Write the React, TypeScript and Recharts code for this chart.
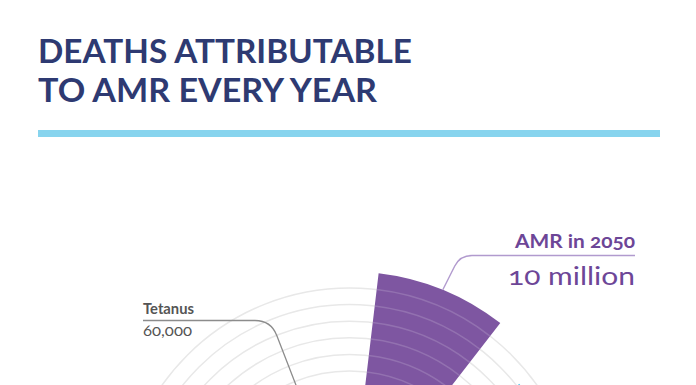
import React from 'react';
import {
  RadialBarChart,
  RadialBar,
  PolarGrid,
  PolarAngleAxis,
  PolarRadiusAxis,
  Sector,
} from 'recharts';

// ---- data ----
const CAUSES = [
  'AMR in 2050',
  'Cancer',
  'Cholera',
  'Diarrhoeal disease',
  'Road traffic accidents',
  'Measles',
  'AMR now',
  'Tetanus',
];
const DEATHS = [10000000, 8200000, 120000, 1400000, 1200000, 130000, 700000, 60000];
const VALUE_LABELS = ['10 million', '8.2 million', '120,000', '1.4 million', '1.2 million', '130,000', '700,000', '60,000'];
const RING_TICKS = [1000000, 2000000, 3000000, 4000000, 5000000, 6000000, 7000000, 8000000, 9000000];
const TITLE_LINES = ['DEATHS ATTRIBUTABLE', 'TO AMR EVERY YEAR'];

const data = CAUSES.map((name, i) => ({ name, deaths: DEATHS[i], valueLabel: VALUE_LABELS[i] }));

// ---- styles ----
const COLORS = ['#7e56a1', '#4fc4ea', '#3b9ad6', '#2f7fc1', '#5fb0e0', '#83c9ec', '#9b7cc0', '#8fd3ef'];
const FONT = 'Lato, "Open Sans", sans-serif';

type LabelLayout = {
  x: number;
  anchor: 'start' | 'end';
  titleY: number;
  valueY: number;
  titleSize: number;
  valueSize: number;
  titleLen: number;
  valueLen: number;
  color: string;
  lineY: number;
  cornerX: number;
  cornerR: number;
  lineColor: string;
  lineWidth: number;
};

const LABEL_LAYOUT: Record<string, LabelLayout> = {
  'AMR in 2050': {
    x: 635, anchor: 'end', titleY: 248, valueY: 285, titleSize: 18, valueSize: 25,
    titleLen: 120, valueLen: 127, color: '#6d4697', lineY: 255.5, cornerX: 460, cornerR: 12,
    lineColor: '#b19ace', lineWidth: 1.4,
  },
  Tetanus: {
    x: 143, anchor: 'start', titleY: 314, valueY: 336, titleSize: 15, valueSize: 16,
    titleLen: 51, valueLen: 49, color: '#555555', lineY: 320.5, cornerX: 271, cornerR: 16,
    lineColor: '#8c8c8c', lineWidth: 1.3,
  },
};

const RAD = Math.PI / 180;
const polar = (cx: number, cy: number, r: number, a: number) => [cx + r * Math.cos(-a * RAD), cy + r * Math.sin(-a * RAD)];

function WedgeShape(props: any) {
  const { cx, cy, innerRadius, outerRadius, startAngle, endAngle } = props;
  const payload = props.payload || props;
  const name: string = payload.name;
  const value: number = payload.deaths;
  const idx = CAUSES.indexOf(name);
  const fill = COLORS[idx] || '#999';
  const sweep = startAngle > endAngle ? 1 : 0;

  const rings = RING_TICKS.filter((t) => t < value).map((t) => {
    const r = innerRadius + ((outerRadius - innerRadius) * t) / value;
    const [x1, y1] = polar(cx, cy, r, startAngle);
    const [x2, y2] = polar(cx, cy, r, endAngle);
    return (
      <path
        key={t}
        d={`M${x1},${y1} A${r},${r} 0 0 ${sweep} ${x2},${y2}`}
        fill="none"
        stroke="rgba(255,255,255,0.16)"
        strokeWidth={1.5}
      />
    );
  });

  const lay = LABEL_LAYOUT[name];
  let annotation = null;
  if (lay) {
    const mid = (startAngle + endAngle) / 2;
    const [tx, ty] = polar(cx, cy, outerRadius, mid);
    const kx = lay.cornerX;
    const ky = lay.lineY;
    const dir = lay.x > kx ? 1 : -1;
    const dx = tx - kx;
    const dy = ty - ky;
    const len = Math.sqrt(dx * dx + dy * dy);
    const ux = dx / len;
    const uy = dy / len;
    const d = `M${lay.x},${ky} L${kx + dir * lay.cornerR},${ky} Q${kx},${ky} ${kx + ux * lay.cornerR},${ky + uy * lay.cornerR} L${tx},${ty}`;
    annotation = (
      <g>
        <path d={d} fill="none" stroke={lay.lineColor} strokeWidth={lay.lineWidth} />
        <text
          x={lay.x}
          y={lay.titleY}
          textAnchor={lay.anchor}
          fontFamily={FONT}
          fontWeight={700}
          fontSize={lay.titleSize}
          fill={lay.color}
          textLength={lay.titleLen}
          lengthAdjust="spacingAndGlyphs"
          style={{ fontVariantNumeric: 'oldstyle-nums' }}
        >
          {name}
        </text>
        <text
          x={lay.x}
          y={lay.valueY}
          textAnchor={lay.anchor}
          fontFamily={FONT}
          fontWeight={400}
          fontSize={lay.valueSize}
          fill={lay.color}
          textLength={lay.valueLen}
          lengthAdjust="spacingAndGlyphs"
          style={{ fontVariantNumeric: 'oldstyle-nums' }}
        >
          {payload.valueLabel}
        </text>
      </g>
    );
  }

  return (
    <g>
      <Sector
        cx={cx}
        cy={cy}
        innerRadius={innerRadius}
        outerRadius={outerRadius}
        startAngle={startAngle}
        endAngle={endAngle}
        fill={fill}
      />
      {rings}
      {annotation}
    </g>
  );
}

export default function App() {
  return (
    <div style={{ position: 'absolute', left: 0, top: 0, width: 696, height: 385, overflow: 'hidden', background: '#fff' }}>
      <svg width={696} height={385} style={{ position: 'absolute', left: 0, top: 0 }}>
        <text x={38} y={63} fontFamily={FONT} fontWeight={700} fontSize={33} fill="#2e3a72" textLength={374} lengthAdjust="spacingAndGlyphs">
          {TITLE_LINES[0]}
        </text>
        <text x={38} y={102} fontFamily={FONT} fontWeight={700} fontSize={33} fill="#2e3a72" textLength={339} lengthAdjust="spacingAndGlyphs">
          {TITLE_LINES[1]}
        </text>
        <rect x={38} y={130} width={622} height={7} fill="#87d4ee" />
      </svg>
      <div style={{ position: 'absolute', left: 0, top: 0 }}>
        <RadialBarChart
          width={696}
          height={385}
          data={data}
          layout="centric"
          cx={349.5}
          cy={517.4}
          innerRadius={80}
          outerRadius={246}
          startAngle={45}
          endAngle={-315}
          barCategoryGap="16%"
          margin={{ top: 0, right: 0, bottom: 0, left: 0 }}
        >
          <PolarGrid gridType="circle" radialLines={false} stroke="#e8e8e8" strokeWidth={1.5} />
          <PolarAngleAxis type="category" dataKey="name" tick={false} axisLine={false} tickLine={false} />
          <PolarRadiusAxis
            type="number"
            domain={[0, 10000000]}
            ticks={RING_TICKS}
            tick={false}
            axisLine={false}
            tickLine={false}
          />
          <RadialBar dataKey="deaths" isAnimationActive={false} shape={WedgeShape} />
        </RadialBarChart>
      </div>
    </div>
  );
}
